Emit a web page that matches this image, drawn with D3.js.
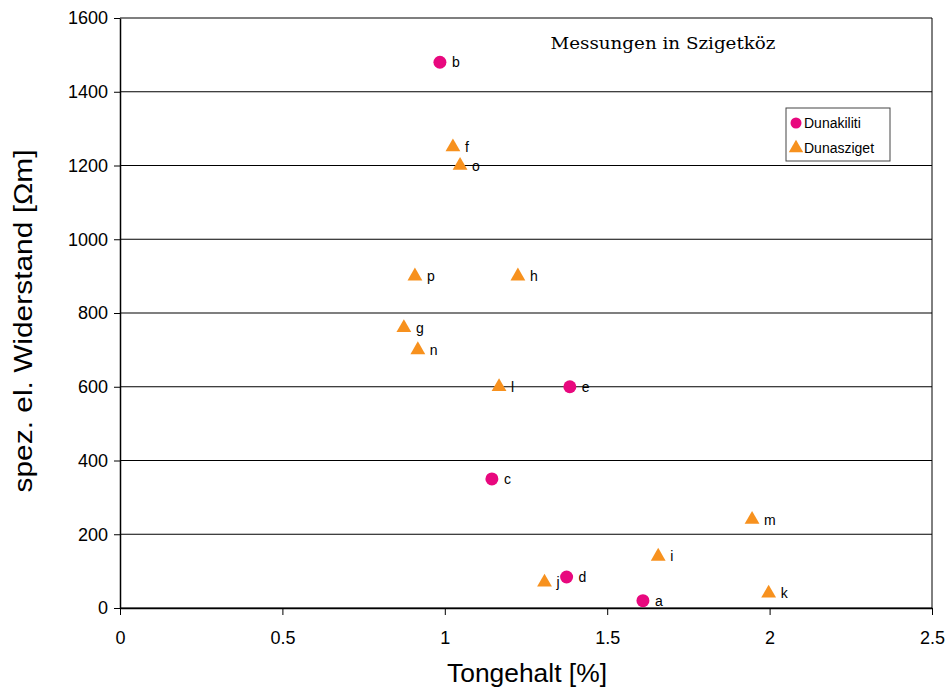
<!DOCTYPE html>
<html>
<head>
<meta charset="utf-8">
<script src="https://cdn.jsdelivr.net/npm/d3@7"></script>
<style>
  body { margin: 0; background: #fff; }
  text { font-family: "Liberation Sans", Arial, sans-serif; }
</style>
</head>
<body>
<div id="chart"></div>
<script>
// Dunakiliti (circles)
const dkLabels = ["a", "b", "c", "d", "e"];
const dkX = [1.61, 0.985, 1.145, 1.375, 1.385];
const dkY = [20, 1480, 350, 84, 600];

// Dunasziget (triangles)
const dsLabels = ["f", "o", "p", "h", "g", "n", "l", "m", "i", "j", "k"];
const dsX = [1.025, 1.047, 0.908, 1.225, 0.874, 0.917, 1.167, 1.946, 1.657, 1.307, 1.997];
const dsY = [1250, 1200, 900, 900, 760, 700, 600, 240, 140, 70, 40];

const xTicks = [0, 0.5, 1, 1.5, 2, 2.5];
const yTicks = [0, 200, 400, 600, 800, 1000, 1200, 1400, 1600];

const margin = { top: 18, right: 18, bottom: 88, left: 120 };
const width = 950 - margin.left - margin.right;
const height = 696 - margin.top - margin.bottom;

const svg = d3.select("#chart")
    .append("svg")
    .attr("width", 950)
    .attr("height", 696)
    .append("g")
    .attr("transform", "translate(" + margin.left + "," + margin.top + ")");

const x = d3.scaleLinear().domain([0, 2.5]).range([0, width]);
const y = d3.scaleLinear().domain([0, 1600]).range([height, 0]);

// horizontal gridlines
svg.selectAll(".grid")
    .data(yTicks)
    .enter().append("line")
    .attr("x1", 0).attr("x2", width)
    .attr("y1", d => y(d)).attr("y2", d => y(d))
    .attr("stroke", "#000").attr("stroke-width", 1.2);

// right frame
svg.append("line")
    .attr("x1", width).attr("x2", width)
    .attr("y1", 0).attr("y2", height)
    .attr("stroke", "#000");

// axes
svg.append("g")
    .attr("transform", "translate(0," + height + ")")
    .call(d3.axisBottom(x).tickValues(xTicks).tickSize(7).tickSizeOuter(0).tickPadding(16).tickFormat(d3.format("")))
    .call(g => g.selectAll("text").style("font-size", "18px").attr("fill", "#000"))
    .call(g => g.select(".domain").attr("stroke-width", 1.5));

svg.append("g")
    .call(d3.axisLeft(y).tickValues(yTicks).tickSize(6).tickSizeOuter(0).tickPadding(6).tickFormat(d3.format("d")))
    .call(g => g.selectAll("text").style("font-size", "18px").attr("fill", "#000"))
    .call(g => g.select(".domain").attr("stroke-width", 1.5));

// circles
svg.selectAll(".dk")
    .data(dkX)
    .enter().append("circle")
    .attr("cx", d => x(d))
    .attr("cy", (d, i) => y(dkY[i]))
    .attr("r", 6.5)
    .attr("fill", "#e8087e");

svg.selectAll(".dkl")
    .data(dkX)
    .enter().append("text")
    .attr("x", d => x(d) + 12)
    .attr("y", (d, i) => y(dkY[i]) + 5)
    .style("font-size", "14px")
    .text((d, i) => dkLabels[i]);

// triangles
const tri = d3.symbol().type(d3.symbolTriangle).size(95);
svg.selectAll(".ds")
    .data(dsX)
    .enter().append("path")
    .attr("d", tri)
    .attr("transform", (d, i) => "translate(" + x(d) + "," + y(dsY[i]) + ")")
    .attr("fill", "#f7911e");

svg.selectAll(".dsl")
    .data(dsX)
    .enter().append("text")
    .attr("x", d => x(d) + 12)
    .attr("y", (d, i) => y(dsY[i]) + 5)
    .style("font-size", "14px")
    .text((d, i) => dsLabels[i]);

// title
svg.append("text")
    .attr("x", 543)
    .attr("y", 31)
    .attr("text-anchor", "middle")
    .style("font-family", "'DejaVu Serif', serif")
    .style("font-size", "17px")
    .attr("textLength", 225)
    .attr("lengthAdjust", "spacingAndGlyphs")
    .text("Messungen in Szigetköz");

// legend
const legend = svg.append("g").attr("transform", "translate(666,90)");
legend.append("rect")
    .attr("width", 104).attr("height", 53)
    .attr("fill", "#fff").attr("stroke", "#444");
legend.append("circle").attr("cx", 10).attr("cy", 15).attr("r", 5.5).attr("fill", "#e8087e");
legend.append("text").attr("x", 18).attr("y", 20).style("font-size", "14px").text("Dunakiliti");
legend.append("path").attr("d", d3.symbol().type(d3.symbolTriangle).size(90))
    .attr("transform", "translate(10,40)").attr("fill", "#f7911e");
legend.append("text").attr("x", 18).attr("y", 45).style("font-size", "14px").text("Dunasziget");

// axis labels
svg.append("text")
    .attr("x", 527 - margin.left)
    .attr("y", height + 74)
    .attr("text-anchor", "middle")
    .style("font-size", "25px")
    .attr("textLength", 160)
    .attr("lengthAdjust", "spacingAndGlyphs")
    .text("Tongehalt [%]");

svg.append("text")
    .attr("transform", "rotate(-90)")
    .attr("x", -(321 - margin.top))
    .attr("y", -88)
    .attr("text-anchor", "middle")
    .style("font-size", "25px")
    .attr("textLength", 343)
    .attr("lengthAdjust", "spacingAndGlyphs")
    .text("spez. el. Widerstand [Ωm]");
</script>
</body>
</html>
